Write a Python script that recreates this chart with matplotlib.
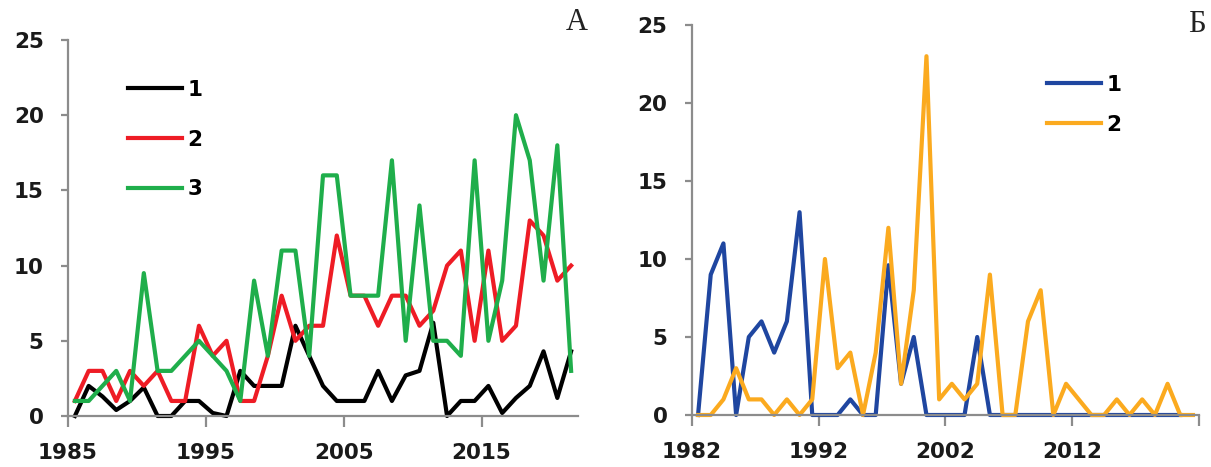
import matplotlib
matplotlib.use("Agg")
import matplotlib.pyplot as plt
import numpy as np

# ---------------- Data ----------------
# Panel A: 1985..2021
years_a = list(range(1985, 2022))
series_a1 = [0, 2, 1.3, 0.4, 1, 1.9, 0, 0, 1, 1, 0.2, 0, 3, 2, 2, 2, 6, 4, 2, 1,
             1, 1, 3, 1, 2.7, 3, 6.2, 0, 1, 1, 2, 0.2, 1.2, 2, 4.3, 1.2, 4.3]
series_a2 = [1, 3, 3, 1, 3, 2, 3, 1, 1, 6, 4, 5, 1, 1, 4, 8, 5, 6, 6, 12,
             8, 8, 6, 8, 8, 6, 7, 10, 11, 5, 11, 5, 6, 13, 12, 9, 10]
series_a3 = [1, 1, 2, 3, 1, 9.5, 3, 3, 4, 5, 4, 3, 1, 9, 4, 11, 11, 4, 16, 16,
             8, 8, 8, 17, 5, 14, 5, 5, 4, 17, 5, 9, 20, 17, 9, 18, 3]
labels_a = ["1", "2", "3"]

# Panel B: 1982..2021
years_b = list(range(1982, 2022))
series_b1 = [0, 9, 11, 0, 5, 6, 4, 6, 13, 0, 0, 0, 1, 0, 0, 9.6, 2, 5, 0, 0,
             0, 0, 5, 0, 0, 0, 0, 0, 0, 0, 0, 0, 0, 0, 0, 0, 0, 0, 0]
series_b2 = [0, 0, 1, 3, 1, 1, 0, 1, 0, 1, 10, 3, 4, 0, 4, 12, 2, 8, 23, 1,
             2, 1, 2, 9, 0, 0, 6, 8, 0, 2, 1, 0, 0, 1, 0, 1, 0, 2, 0, 0]
labels_b = ["1", "2"]

yticks = [0, 5, 10, 15, 20, 25]
xticks_a = [1985, 1995, 2005, 2015]
xticks_b = [1982, 1992, 2002, 2012, 2022]
xticklabels_b = ["1982", "1992", "2002", "2012", ""]

# ---------------- Styling ----------------
W, H = 1211, 467
fig = plt.figure(figsize=(W / 100, H / 100), dpi=100)
fig.patch.set_facecolor("white")

GRAY = "#8c8c8c"
FS = 15.5
LW = 3.0


def px_axes(l, t, r, b):
    return fig.add_axes([l / W, 1 - b / H, (r - l) / W, (b - t) / H])


def style(ax, xlim, xticks, xticklabels):
    ax.set_xlim(*xlim)
    ax.set_ylim(0, 25)
    for s in ("top", "right"):
        ax.spines[s].set_visible(False)
    for s in ("left", "bottom"):
        ax.spines[s].set_color(GRAY)
        ax.spines[s].set_linewidth(1.6)
    ax.set_yticks(yticks)
    ax.set_yticklabels([str(v) for v in yticks])
    ax.set_xticks(xticks)
    ax.set_xticklabels(xticklabels)
    ax.tick_params(axis="y", direction="out", length=5, width=1.6, color=GRAY,
                   pad=12.5, labelsize=FS)
    ax.tick_params(axis="x", direction="out", length=8, width=1.6, color=GRAY,
                   pad=11.5, labelsize=FS)
    for lab in ax.get_xticklabels() + ax.get_yticklabels():
        lab.set_fontweight("bold")
        lab.set_color("#1a1a1a")


# Panel A
axA = px_axes(68, 40, 578, 416)
xa = np.array(years_a) + 0.5
for ys, c, lab in zip([series_a1, series_a2, series_a3],
                      ["#000000", "#ee1c25", "#1fae4b"], labels_a):
    axA.plot(xa, ys, color=c, lw=LW, label=lab, clip_on=False)
style(axA, (1985, 2022), xticks_a, [str(v) for v in xticks_a])
legA = axA.legend(loc="upper left", bbox_to_anchor=(128 / W, 1 - 80 / H),
                  bbox_transform=fig.transFigure, frameon=False,
                  handlelength=2.5, handletextpad=0.25, labelspacing=1.38,
                  borderpad=0, borderaxespad=0,
                  prop={"size": FS, "weight": "bold"})

# Panel B
axB = px_axes(691.7, 25, 1199.3, 415)
xb = np.array(years_b) + 0.5
axB.plot(xb[:len(series_b1)], series_b1, color="#1f46a0", lw=LW,
         label=labels_b[0], clip_on=False)
axB.plot(xb, series_b2, color="#fbaa1f", lw=LW, label=labels_b[1],
         clip_on=False)
style(axB, (1982, 2022), xticks_b, xticklabels_b)
legB = axB.legend(loc="upper left", bbox_to_anchor=(1047 / W, 1 - 75 / H),
                  bbox_transform=fig.transFigure, frameon=False,
                  handlelength=2.5, handletextpad=0.25, labelspacing=0.92,
                  borderpad=0, borderaxespad=0,
                  prop={"size": FS, "weight": "bold"})

fig.text(576.7 / W, 1 - 23 / H, "А", ha="center", va="center",
         family="Liberation Serif", fontsize=22, color="#222222")
fig.text(1196.7 / W, 1 - 25 / H, "Б", ha="center", va="center",
         family="Liberation Serif", fontsize=22, color="#222222")

fig.savefig("out.png", dpi=100, facecolor="white")
